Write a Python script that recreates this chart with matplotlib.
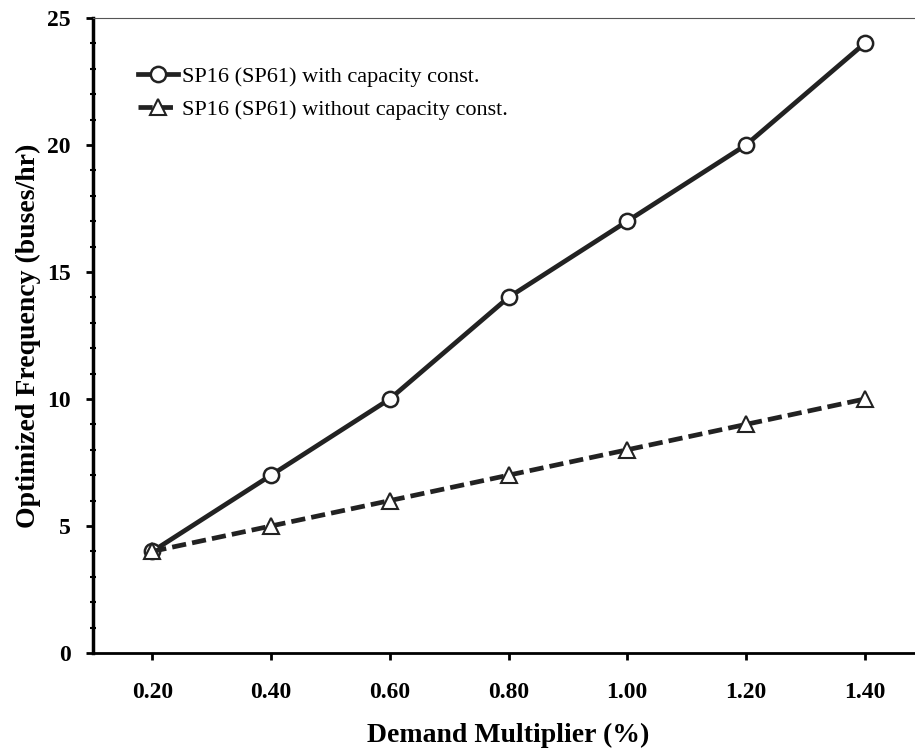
import matplotlib.pyplot as plt
from matplotlib.ticker import MultipleLocator

plt.rcParams['font.family'] = ['Liberation Serif', 'DejaVu Serif']

demand = [0.20, 0.40, 0.60, 0.80, 1.00, 1.20, 1.40]
with_cap = [4, 7, 10, 14, 17, 20, 24]
without_cap = [4, 5, 6, 7, 8, 9, 10]
xtick_labels = ['0.20', '0.40', '0.60', '0.80', '1.00', '1.20', '1.40']

fig = plt.figure(figsize=(9.15, 7.48), dpi=100)
# axes runs a little past the right edge, as in the cropped original
ax = fig.add_axes([93/915, (748-653)/748, (924-93)/915, (653-18)/748])

ax.plot(demand, with_cap, color='#222222', lw=3.4, marker='o', ms=11,
        mfc='white', mec='#222222', mew=1.8,
        label='SP16 (SP61) with capacity const.')
ax.plot(demand, without_cap, color='#222222', lw=3.4, ls=(0, (3, 1.3)),
        marker='^', ms=11, mfc='white', mec='#222222', mew=1.5,
        label='SP16 (SP61) without capacity const.')

ax.set_xlim(0.1, 1.5)
ax.set_ylim(0, 25)
ax.set_xticks(demand)
ax.set_xticklabels(xtick_labels)
ax.yaxis.set_major_locator(MultipleLocator(5))
ax.yaxis.set_minor_locator(MultipleLocator(1))

ax.spines['right'].set_visible(False)
ax.spines['top'].set_linewidth(0.8)
ax.spines['top'].set_color('#555555')
ax.spines['left'].set_linewidth(2.5)
ax.spines['bottom'].set_linewidth(2.0)

ax.tick_params(axis='both', which='major', direction='out', length=5,
               width=2, labelsize=17)
ax.tick_params(axis='y', which='major', pad=11)
ax.tick_params(axis='y', which='minor', direction='inout', length=5, width=1.5)
ax.tick_params(axis='x', pad=16)
for lab in ax.get_xticklabels() + ax.get_yticklabels():
    lab.set_fontweight('bold')

ax.set_xlabel('Demand Multiplier (%)', fontsize=20, fontweight='bold', labelpad=14)
ax.set_ylabel('Optimized Frequency (buses/hr)', fontsize=20, fontweight='bold', labelpad=4)

ax.legend(loc='upper left', bbox_to_anchor=(0.03, 0.955), frameon=False,
          fontsize=16, handlelength=1.8, handletextpad=0.2, labelspacing=0.55)

fig.savefig('out.png', dpi=100)
